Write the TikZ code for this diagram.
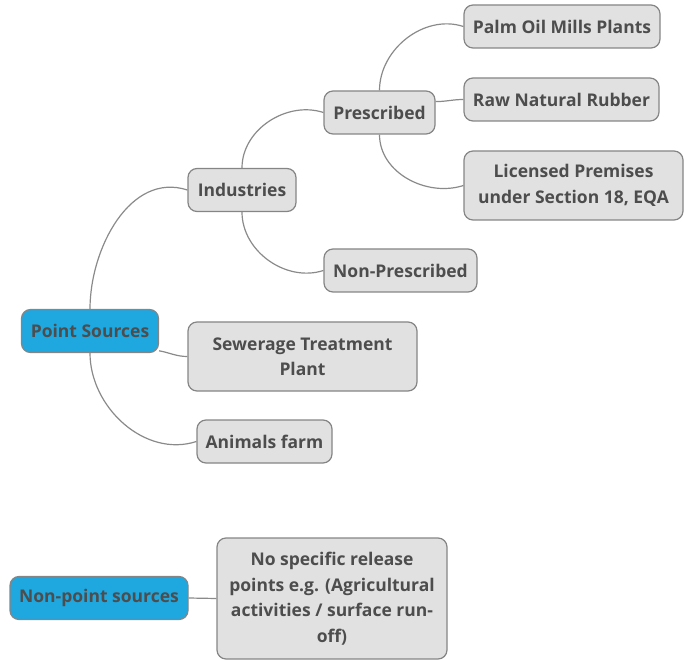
\documentclass[tikz,border=0pt]{standalone}
\usepackage{fontspec}
\setmainfont{Open Sans}
\usepackage{tikz}

\definecolor{topicblue}{HTML}{1FA7DF}
\definecolor{boxfill}{HTML}{E1E1E1}
\definecolor{boxline}{HTML}{858585}
\definecolor{txtgray}{HTML}{4D4D4D}
\definecolor{linkgray}{HTML}{8A8A8A}

\begin{document}
\begin{tikzpicture}[x=1pt,y=1pt]
	\useasboundingbox (0,0) rectangle (684,659);
		\begin{scope}[every node/.style={draw=boxline,fill=boxfill,rounded corners=9pt,
				line width=1.2pt,text=txtgray,inner sep=0pt,align=center,
				font=\fontsize{17.5}{25.5}\selectfont\bfseries}]
			\node[fill=topicblue,minimum width=137pt,minimum height=43pt] (PS) at (90,328) {Point Sources};
			\node[fill=topicblue,minimum width=178pt,minimum height=43pt] (NPS) at (99,61) {Non-point sources};
			\node[minimum width=108pt,minimum height=43pt] (Ind) at (242,469) {Industries};
			\node[minimum width=229pt,minimum height=69pt] (Sew) at (302.5,302.5) {Sewerage Treatment\\Plant};
			\node[minimum width=135pt,minimum height=43pt] (Ani) at (264.5,217.5) {Animals farm};
			\node[minimum width=111pt,minimum height=43pt] (Pre) at (379.5,546.5) {Prescribed};
			\node[minimum width=153pt,minimum height=43pt] (NonPre) at (400.5,388.5) {Non-Prescribed};
			\node[minimum width=196pt,minimum height=43pt] (Palm) at (562,632.5) {Palm Oil Mills Plants};
			\node[minimum width=195pt,minimum height=43pt] (Raw) at (561.5,559.5) {Raw Natural Rubber};
			\node[minimum width=219pt,minimum height=69pt] (Lic) at (573.5,473.5) {Licensed Premises\\under Section 18, EQA};
			\node[minimum width=230pt,minimum height=121pt] (NoSpec) at (332,60.5) {No specific release\\points e.g. (Agricultural\\activities / surface run-\\off)};
		\end{scope}
	\begin{scope}[every path/.style={draw=linkgray,line width=1.2pt}]
			\path (PS.north) edge[out=90,in=162] (Ind.west);
			\path (PS.-16) edge[out=-10,in=180] (Sew.west);
			\path (PS.south) edge[out=-90,in=198] (Ani.west);
			\path (Ind.north) edge[out=90,in=162] (Pre.west);
			\path (Ind.south) edge[out=-90,in=198] (NonPre.west);
			\path (Pre.north) edge[out=90,in=162] (Palm.west);
			\path (Pre.11) edge[out=0,in=180] (Raw.west);
			\path (Pre.south) edge[out=-90,in=198] (Lic.west);
			\path (NPS.east) edge (NoSpec.west);
		\end{scope}
	\end{tikzpicture}
\end{document}
